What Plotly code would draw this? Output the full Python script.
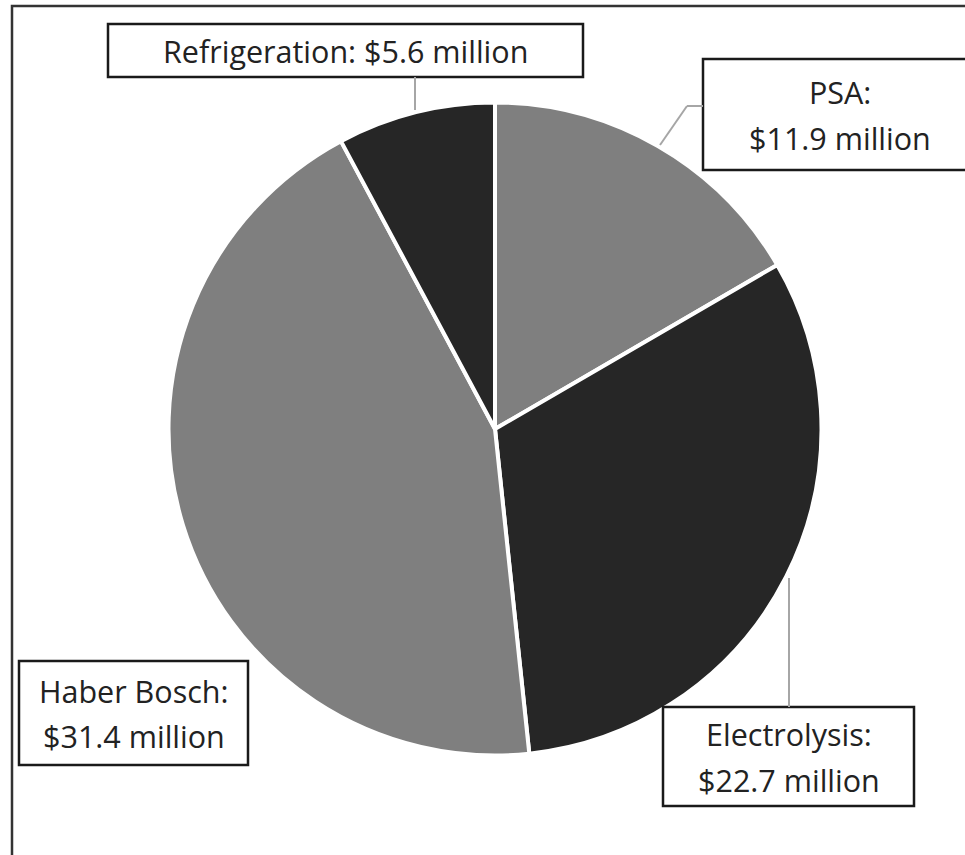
import plotly.graph_objects as go

W, H = 965, 855

categories = ["PSA", "Electrolysis", "Haber Bosch", "Refrigeration"]
values = [11.9, 22.7, 31.4, 5.6]
colors = ["#7f7f7f", "#262626", "#7f7f7f", "#262626"]
units = "million"


def px(x):
    return x / W


def py(y):
    return 1 - y / H


# pie geometry (pixels)
cx, cy, r = 495, 429, 326.5

fig = go.Figure()
fig.add_trace(go.Pie(
    labels=categories,
    values=values,
    marker=dict(colors=colors, line=dict(color="white", width=4)),
    sort=False,
    direction="clockwise",
    rotation=0,
    textinfo="none",
    hoverinfo="label+value",
    showlegend=False,
    domain=dict(x=[px(cx - r), px(cx + r)], y=[py(cy + r), py(cy - r)]),
))

# label box layout: (box x0, x1, y0, y1, single_line)
boxes = {
    "Refrigeration": (108, 583, 24, 77, True),
    "PSA": (703, 977, 59, 170, False),
    "Haber Bosch": (19, 248, 661, 765, False),
    "Electrolysis": (663, 914, 707, 806, False),
}

shapes = []
annotations = []
font = dict(family="'Open Sans', Lato, sans-serif", size=30.5, color="#222222")

for cat, val in zip(categories, values):
    x0, x1, y0, y1, single = boxes[cat]
    shapes.append(dict(type="rect", xref="paper", yref="paper",
                       x0=px(x0), x1=px(x1), y0=py(y1), y1=py(y0),
                       line=dict(color="#1a1a1a", width=2.5), fillcolor="white", layer="above"))
    xc = (x0 + x1) / 2
    if single:
        lines = [f"{cat}: ${val} {units}"]
        ys = [(y0 + y1) / 2]
    else:
        lines = [f"{cat}:", f"${val} {units}"]
        ym = (y0 + y1) / 2
        ys = [ym - 22.5, ym + 23]
    for t, yy in zip(lines, ys):
        annotations.append(dict(text=t, xref="paper", yref="paper", x=px(xc), y=py(yy),
                                xanchor="center", yanchor="middle", showarrow=False, font=font))

# leader lines
lead = "#a6a6a6"
leaders = [
    [(415, 77), (415, 110)],
    [(703, 106), (687, 106), (660, 145)],
    [(789, 707), (789, 578)],
]
for pts in leaders:
    for (a, b), (c, d) in zip(pts[:-1], pts[1:]):
        shapes.append(dict(type="line", xref="paper", yref="paper",
                           x0=px(a), y0=py(b), x1=px(c), y1=py(d),
                           line=dict(color=lead, width=2), layer="above"))

# outer frame (top and left visible)
shapes.append(dict(type="rect", xref="paper", yref="paper",
                   x0=px(12), x1=px(1100), y0=py(1000), y1=py(6),
                   line=dict(color="#333333", width=2.5), fillcolor="rgba(0,0,0,0)", layer="above"))

fig.update_layout(
    width=W, height=H,
    margin=dict(l=0, r=0, t=0, b=0),
    paper_bgcolor="white", plot_bgcolor="white",
    shapes=shapes, annotations=annotations,
)

fig.write_html("out.html")
